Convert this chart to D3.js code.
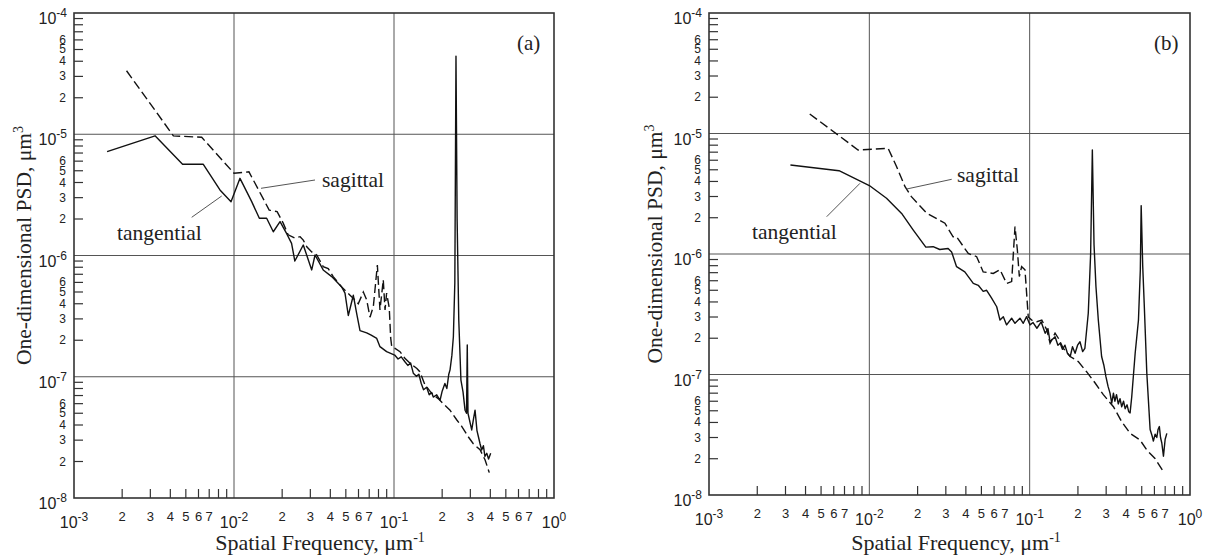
<!DOCTYPE html>
<html>
<head>
<meta charset="utf-8">
<script src="https://cdn.jsdelivr.net/npm/d3@7"></script>
<style>
  body { margin: 0; background: #fff; }
  svg { display: block; }
</style>
</head>
<body>
<svg id="chart" width="1209" height="558"></svg>
<script>
// [spatial frequency (1/um), PSD (um^3)]
var tangentialA = [
  [1.61e-3, 7.2e-6], [3.21e-3, 9.7e-6], [4.77e-3, 5.65e-6], [6.43e-3, 5.65e-6],
  [8.17e-3, 3.47e-6], [9.58e-3, 2.78e-6], [1.09e-2, 4.33e-6], [1.29e-2, 2.78e-6],
  [1.44e-2, 2.03e-6], [1.60e-2, 2.03e-6], [1.76e-2, 1.57e-6], [1.94e-2, 1.90e-6],
  [2.13e-2, 1.52e-6], [2.29e-2, 1.26e-6], [2.40e-2, 9.0e-7], [2.71e-2, 1.22e-6],
  [3.06e-2, 7.6e-7], [3.21e-2, 1.01e-6], [3.61e-2, 7.6e-7], [4.08e-2, 6.7e-7],
  [4.71e-2, 5.5e-7], [4.94e-2, 4.9e-7], [5.18e-2, 3.2e-7], [5.57e-2, 4.7e-7],
  [5.85e-2, 3.3e-7], [6.13e-2, 2.4e-7], [6.75e-2, 2.3e-7], [7.2e-2, 2.2e-7],
  [7.80e-2, 2.07e-7], [8.17e-2, 1.77e-7], [8.99e-2, 1.61e-7], [0.101, 1.51e-7],
  [0.106, 1.40e-7], [0.111, 1.46e-7], [0.117, 1.33e-7], [0.122, 1.24e-7],
  [0.127, 1.30e-7], [0.132, 1.07e-7], [0.138, 1.01e-7], [0.143, 1.05e-7],
  [0.148, 8.8e-8], [0.153, 7.8e-8], [0.160, 8.2e-8], [0.166, 7.1e-8],
  [0.172, 7.4e-8], [0.176, 6.8e-8], [0.185, 7.1e-8], [0.194, 6.4e-8],
  [0.200, 7.6e-8], [0.208, 8.8e-8], [0.214, 8.0e-8], [0.220, 1.05e-7],
  [0.224, 1.14e-7], [0.230, 1.5e-7], [0.235, 2.14e-7], [0.240, 6.0e-7],
  [0.244, 4.41e-5], [0.248, 2.0e-6], [0.254, 2.94e-7], [0.262, 9.4e-8],
  [0.270, 7.5e-8], [0.278, 5.3e-8], [0.284, 5.0e-8], [0.287, 1.83e-7],
  [0.290, 5.0e-8], [0.306, 3.64e-8], [0.314, 4.5e-8], [0.321, 5.3e-8],
  [0.330, 3.6e-8], [0.337, 3.2e-8], [0.345, 2.8e-8], [0.353, 2.49e-8],
  [0.362, 2.7e-8], [0.370, 2.2e-8], [0.380, 2.34e-8], [0.390, 2.1e-8],
  [0.402, 2.34e-8]
];

var sagittalA = [
  [2.13e-3, 3.34e-5], [4.18e-3, 9.7e-6], [6.28e-3, 9.44e-6], [1.00e-2, 4.77e-6],
  [1.24e-2, 4.9e-6], [1.66e-2, 2.37e-6], [1.86e-2, 2.3e-6], [2.03e-2, 1.85e-6],
  [2.18e-2, 1.48e-6], [2.40e-2, 1.39e-6], [2.59e-2, 1.43e-6], [2.71e-2, 1.34e-6],
  [2.85e-2, 1.18e-6], [3.06e-2, 1.07e-6], [3.29e-2, 1.01e-6], [3.61e-2, 8.1e-7],
  [3.88e-2, 7.8e-7], [4.17e-2, 6.7e-7], [4.71e-2, 5.5e-7], [5.31e-2, 4.7e-7],
  [5.70e-2, 4.3e-7], [5.98e-2, 4.0e-7], [6.43e-2, 5.0e-7], [6.75e-2, 4.3e-7],
  [7.08e-2, 3.1e-7], [7.43e-2, 3.8e-7], [7.87e-2, 8.35e-7], [8.17e-2, 3.55e-7],
  [8.57e-2, 6.3e-7], [8.79e-2, 3.55e-7], [8.99e-2, 4.9e-7], [9.34e-2, 3.7e-7],
  [9.53e-2, 2.1e-7], [9.68e-2, 1.77e-7], [0.101, 1.72e-7], [0.109, 1.61e-7],
  [0.117, 1.42e-7], [0.126, 1.29e-7], [0.139, 1.17e-7], [0.145, 1.10e-7],
  [0.156, 8.6e-8], [0.172, 7.3e-8], [0.189, 6.6e-8], [0.203, 6.0e-8],
  [0.224, 5.3e-8], [0.247, 4.4e-8], [0.265, 3.9e-8], [0.291, 3.2e-8],
  [0.313, 2.8e-8], [0.345, 2.5e-8], [0.371, 2.06e-8], [0.394, 1.62e-8]
];

var tangentialB = [
  [3.22e-3, 5.48e-6], [6.47e-3, 4.91e-6], [1.0e-2, 3.7e-6], [1.28e-2, 2.9e-6],
  [1.59e-2, 2.17e-6], [1.88e-2, 1.58e-6], [2.25e-2, 1.14e-6], [2.50e-2, 1.15e-6],
  [2.75e-2, 1.09e-6], [3.10e-2, 1.11e-6], [3.26e-2, 1.04e-6], [3.50e-2, 7.85e-7],
  [3.94e-2, 7.1e-7], [4.45e-2, 5.7e-7], [4.78e-2, 5.5e-7], [5.13e-2, 4.9e-7],
  [5.39e-2, 5.0e-7], [5.79e-2, 4.3e-7], [6.23e-2, 3.65e-7], [6.53e-2, 2.83e-7],
  [6.85e-2, 3.02e-7], [7.18e-2, 2.58e-7], [7.72e-2, 2.93e-7], [8.10e-2, 2.66e-7],
  [8.70e-2, 2.93e-7], [9.12e-2, 2.66e-7], [9.57e-2, 3.02e-7], [0.1005, 2.58e-7],
  [0.105, 2.7e-7], [0.111, 2.42e-7], [0.118, 2.73e-7], [0.125, 2.2e-7],
  [0.130, 2.4e-7], [0.134, 1.87e-7], [0.144, 2.06e-7], [0.150, 1.75e-7],
  [0.155, 1.82e-7], [0.160, 1.62e-7], [0.166, 1.75e-7], [0.172, 1.5e-7],
  [0.179, 1.41e-7], [0.185, 1.7e-7], [0.192, 1.5e-7], [0.199, 1.75e-7],
  [0.206, 1.87e-7], [0.214, 1.55e-7], [0.221, 1.65e-7], [0.232, 3.22e-7],
  [0.240, 1.0e-6], [0.246, 7.3e-6], [0.252, 1.2e-6], [0.259, 5.4e-7],
  [0.268, 2.83e-7], [0.281, 1.41e-7], [0.290, 1.2e-7], [0.299, 9.6e-8],
  [0.308, 8.0e-8], [0.317, 7.0e-8], [0.325, 5.8e-8], [0.333, 7.0e-8],
  [0.340, 6.0e-8], [0.348, 6.8e-8], [0.357, 5.7e-8], [0.366, 6.3e-8],
  [0.375, 5.4e-8], [0.385, 6.0e-8], [0.394, 5.2e-8], [0.405, 5.6e-8],
  [0.415, 4.9e-8], [0.423, 4.8e-8], [0.433, 6.5e-8], [0.455, 1.5e-7],
  [0.477, 2.83e-7], [0.490, 7.4e-7], [0.496, 2.52e-6], [0.507, 8.0e-7],
  [0.518, 3.9e-7], [0.538, 1.02e-7], [0.564, 3.5e-8], [0.580, 3.1e-8],
  [0.591, 2.8e-8], [0.606, 3.2e-8], [0.621, 3.0e-8], [0.632, 3.5e-8],
  [0.644, 3.7e-8], [0.655, 3.0e-8], [0.667, 2.7e-8], [0.683, 2.1e-8],
  [0.700, 2.9e-8], [0.717, 3.25e-8]
];

var sagittalB = [
  [4.25e-3, 1.45e-5], [8.51e-3, 7.3e-6], [1.31e-2, 7.53e-6], [1.48e-2, 5.3e-6],
  [1.67e-2, 3.62e-6], [1.83e-2, 2.99e-6], [2.28e-2, 2.18e-6], [2.96e-2, 1.8e-6],
  [3.33e-2, 1.39e-6], [3.50e-2, 1.39e-6], [4.14e-2, 1.01e-6], [4.67e-2, 9.5e-7],
  [5.13e-2, 7.1e-7], [5.93e-2, 6.9e-7], [6.53e-2, 7.4e-7], [7.18e-2, 5.7e-7],
  [7.72e-2, 5.9e-7], [8.10e-2, 1.69e-6], [8.38e-2, 1.08e-6], [8.62e-2, 6.5e-7],
  [8.91e-2, 7.85e-7], [9.35e-2, 7.4e-7], [9.80e-2, 3.0e-7], [0.103, 2.83e-7],
  [0.111, 2.74e-7], [0.119, 2.83e-7], [0.128, 2.34e-7], [0.134, 1.82e-7],
  [0.144, 2.2e-7], [0.151, 2.0e-7], [0.162, 1.65e-7], [0.179, 1.41e-7],
  [0.201, 1.28e-7], [0.227, 1.05e-7], [0.256, 8.5e-8], [0.288, 6.8e-8],
  [0.333, 5.4e-8], [0.375, 4.06e-8], [0.423, 3.25e-8], [0.488, 2.86e-8],
  [0.538, 2.36e-8], [0.605, 2.01e-8], [0.683, 1.56e-8]
];

// axis ticks
var xDecades = [-3, -2, -1, 0];
var yDecades = [-8, -7, -6, -5, -4];
var minorMantissas = [2, 3, 4, 5, 6, 7, 8, 9];
var xMinorLabels = [2, 3, 4, 5, 6, 7];
var yMinorLabels = [2, 3, 4, 5, 6];
var xGridDecades = [-2, -1];
var yGridDecades = [-7, -6, -5];

var SANS = "'Liberation Sans', Arial, sans-serif";
var SERIF = "'Liberation Serif', 'Times New Roman', serif";

var panels = [
  {
    left: 74, right: 554, top: 13, bottom: 498,
    tangential: tangentialA, sagittal: sagittalA, tag: "(a)",
    tagX: 517, tagY: 50,
    yTitleX: 31, xTitleX: 320,
    tanText: [117, 240], tanLine: [191.7, 217.3, 221.7, 196],
    sagText: [322, 187], sagLine: [261, 188.3, 315, 180]
  },
  {
    left: 709, right: 1190, top: 13, bottom: 495,
    tangential: tangentialB, sagittal: sagittalB, tag: "(b)",
    tagX: 1154, tagY: 50,
    yTitleX: 662, xTitleX: 956,
    tanText: [752, 239], tanLine: [826.7, 216.7, 860, 183.3],
    sagText: [957, 182], sagLine: [906.7, 189, 951.7, 179.3]
  }
];

var svg = d3.select("#chart");

function minorValues(decades) {
  var out = [];
  decades.slice(0, -1).forEach(function(d) {
    minorMantissas.forEach(function(m) {
      out.push({ m: m, v: m * Math.pow(10, d) });
    });
  });
  return out;
}

function drawPanel(p) {
  var x = d3.scaleLog().domain([1e-3, 1]).range([p.left, p.right]);
  var y = d3.scaleLog().domain([1e-8, 1e-4]).range([p.bottom, p.top]);
  var g = svg.append("g");

  // grid lines at decades
  g.selectAll(".vgrid").data(xGridDecades).enter().append("line")
    .attr("x1", function(d) { return x(Math.pow(10, d)); })
    .attr("x2", function(d) { return x(Math.pow(10, d)); })
    .attr("y1", p.top).attr("y2", p.bottom)
    .attr("stroke", "#555").attr("stroke-width", 1);

  g.selectAll(".hgrid").data(yGridDecades).enter().append("line")
    .attr("y1", function(d) { return y(Math.pow(10, d)); })
    .attr("y2", function(d) { return y(Math.pow(10, d)); })
    .attr("x1", p.left).attr("x2", p.right)
    .attr("stroke", "#555").attr("stroke-width", 1);

  // minor ticks, pointing inward
  var xm = minorValues(xDecades);
  var ym = minorValues(yDecades);

  g.selectAll(".xtick").data(xm).enter().append("line")
    .attr("x1", function(d) { return x(d.v); })
    .attr("x2", function(d) { return x(d.v); })
    .attr("y1", p.bottom).attr("y2", p.bottom - 9)
    .attr("stroke", "#333").attr("stroke-width", 1.2);

  g.selectAll(".ytick").data(ym).enter().append("line")
    .attr("y1", function(d) { return y(d.v); })
    .attr("y2", function(d) { return y(d.v); })
    .attr("x1", p.left).attr("x2", p.left + 9)
    .attr("stroke", "#333").attr("stroke-width", 1.2);

  // minor labels
  g.selectAll(".xminor").data(xm.filter(function(d) { return xMinorLabels.indexOf(d.m) >= 0; }))
    .enter().append("text")
    .attr("x", function(d) { return x(d.v); })
    .attr("y", p.bottom + 23)
    .attr("text-anchor", "middle")
    .attr("font-family", SANS).attr("font-size", 13).attr("fill", "#222")
    .text(function(d) { return d.m; });

  // 5 and 6 sit very close together on the y axis, as in the original
  g.selectAll(".yminor").data(ym.filter(function(d) { return yMinorLabels.indexOf(d.m) >= 0; }))
    .enter().append("text")
    .attr("x", p.left - 8)
    .attr("y", function(d) { return y(d.v) + 4; })
    .attr("text-anchor", "end")
    .attr("font-family", SANS).attr("font-size", 12).attr("fill", "#222")
    .text(function(d) { return d.m; });

  // major labels 10^n
  var xl = g.selectAll(".xmajor").data(xDecades).enter().append("text")
    .attr("x", function(d) { return x(Math.pow(10, d)); })
    .attr("y", p.bottom + 30)
    .attr("text-anchor", "middle")
    .attr("font-family", SANS).attr("font-size", 16).attr("fill", "#222");
  xl.append("tspan").text("10");
  xl.append("tspan").attr("dy", -7).attr("font-size", 12).text(function(d) { return d; });

  var yl = g.selectAll(".ymajor").data(yDecades).enter().append("text")
    .attr("x", p.left - 7)
    .attr("y", function(d) { return y(Math.pow(10, d)) + 11; })
    .attr("text-anchor", "end")
    .attr("font-family", SANS).attr("font-size", 16).attr("fill", "#222");
  yl.append("tspan").text("10");
  yl.append("tspan").attr("dy", -7).attr("font-size", 12).text(function(d) { return d; });

  // frame
  g.append("rect")
    .attr("x", p.left).attr("y", p.top)
    .attr("width", p.right - p.left).attr("height", p.bottom - p.top)
    .attr("fill", "none").attr("stroke", "#333").attr("stroke-width", 1.6);

  // curves
  var line = d3.line()
    .x(function(d) { return x(d[0]); })
    .y(function(d) { return y(d[1]); });

  g.append("path").datum(p.sagittal)
    .attr("d", line)
    .attr("fill", "none").attr("stroke", "#111").attr("stroke-width", 1.4)
    .attr("stroke-dasharray", "9,4");

  g.append("path").datum(p.tangential)
    .attr("d", line)
    .attr("fill", "none").attr("stroke", "#111").attr("stroke-width", 1.4)
    .attr("stroke-linejoin", "round");

  // annotations
  g.append("line")
    .attr("x1", p.tanLine[0]).attr("y1", p.tanLine[1])
    .attr("x2", p.tanLine[2]).attr("y2", p.tanLine[3])
    .attr("stroke", "#555").attr("stroke-width", 1);
  g.append("line")
    .attr("x1", p.sagLine[0]).attr("y1", p.sagLine[1])
    .attr("x2", p.sagLine[2]).attr("y2", p.sagLine[3])
    .attr("stroke", "#555").attr("stroke-width", 1);

  g.append("text")
    .attr("x", p.tanText[0]).attr("y", p.tanText[1])
    .attr("font-family", SERIF).attr("font-size", 21.5).attr("fill", "#222")
    .text("tangential");
  g.append("text")
    .attr("x", p.sagText[0]).attr("y", p.sagText[1])
    .attr("font-family", SERIF).attr("font-size", 21.5).attr("fill", "#222")
    .text("sagittal");
  g.append("text")
    .attr("x", p.tagX).attr("y", p.tagY)
    .attr("font-family", SERIF).attr("font-size", 21).attr("fill", "#222")
    .text(p.tag);

  // axis titles
  var xt = g.append("text")
    .attr("x", p.xTitleX).attr("y", 550)
    .attr("text-anchor", "middle")
    .attr("font-family", SERIF).attr("font-size", 22).attr("fill", "#222");
  xt.append("tspan").text("Spatial Frequency, \u03bcm");
  xt.append("tspan").attr("dy", -8).attr("font-size", 14).text("-1");

  var yt = g.append("text")
    .attr("transform", "translate(" + p.yTitleX + "," + ((p.top + p.bottom) / 2 - 10) + ") rotate(-90)")
    .attr("text-anchor", "middle")
    .attr("font-family", SERIF).attr("font-size", 21.5).attr("fill", "#222");
  yt.append("tspan").text("One-dimensional PSD, \u03bcm");
  yt.append("tspan").attr("dy", -8).attr("font-size", 14).text("3");
}

panels.forEach(drawPanel);
</script>
</body>
</html>
